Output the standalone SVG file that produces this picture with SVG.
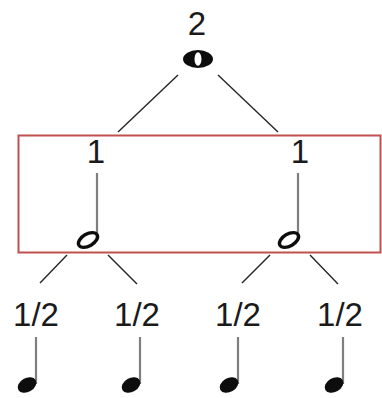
<svg xmlns="http://www.w3.org/2000/svg" width="382" height="398" viewBox="0 0 382 398">
<style>
.lbl{font-family:"Liberation Sans",Arial,sans-serif;font-size:33px;fill:#1a1a1a;text-anchor:middle}
.conn{stroke:#262626;stroke-width:1.4;fill:none}
.stem{stroke:#7f7f7f;stroke-width:2.2}
.head{fill:#0d0d0d}
.hollow{fill:none;stroke:#0d0d0d;stroke-width:3.4}
</style>
<rect width="382" height="398" fill="#fff"/>
<rect id="frame" x="18.5" y="135.5" width="362" height="117" fill="none" stroke="#c0504d" stroke-width="2"/>
<g id="connectors">
<line class="conn" x1="178" y1="75" x2="118" y2="132"/>
<line class="conn" x1="218" y1="75" x2="278" y2="132"/>
<line class="conn" x1="67" y1="255" x2="40" y2="283"/>
<line class="conn" x1="108" y1="255" x2="137" y2="284"/>
<line class="conn" x1="270" y1="255" x2="242" y2="283"/>
<line class="conn" x1="310" y1="255" x2="338" y2="284"/>
</g>
<g id="whole">
<text class="lbl" x="197" y="35">2</text>
<path fill="#0d0d0d" fill-rule="evenodd" d="M183,59a15,9 0 1,0 30,0a15,9 0 1,0 -30,0Z M194.5,59a3.5,6.8 0 1,0 7,0a3.5,6.8 0 1,0 -7,0Z"/>
</g>
<g id="half1">
<text class="lbl" x="96" y="163">1</text>
<line class="stem" x1="97" y1="173" x2="97" y2="239"/>
<ellipse class="hollow" cx="88" cy="240" rx="10.5" ry="6" transform="rotate(-30 88 240)"/>
</g>
<g id="half2">
<text class="lbl" x="300" y="163">1</text>
<line class="stem" x1="298" y1="173" x2="298" y2="239"/>
<ellipse class="hollow" cx="289" cy="240" rx="10.5" ry="6" transform="rotate(-30 289 240)"/>
</g>
<g id="q1">
<text class="lbl" x="36" y="326">1/2</text>
<line class="stem" x1="36" y1="337" x2="36" y2="384"/>
<ellipse class="head" cx="27" cy="385" rx="10" ry="7" transform="rotate(-30 27 385)"/>
</g>
<g id="q2">
<text class="lbl" x="137" y="326">1/2</text>
<line class="stem" x1="140" y1="337" x2="140" y2="384"/>
<ellipse class="head" cx="131" cy="385" rx="10" ry="7" transform="rotate(-30 131 385)"/>
</g>
<g id="q3">
<text class="lbl" x="238" y="326">1/2</text>
<line class="stem" x1="238" y1="337" x2="238" y2="384"/>
<ellipse class="head" cx="229" cy="385" rx="10" ry="7" transform="rotate(-30 229 385)"/>
</g>
<g id="q4">
<text class="lbl" x="340" y="326">1/2</text>
<line class="stem" x1="343" y1="337" x2="343" y2="384"/>
<ellipse class="head" cx="334" cy="385" rx="10" ry="7" transform="rotate(-30 334 385)"/>
</g>
</svg>
